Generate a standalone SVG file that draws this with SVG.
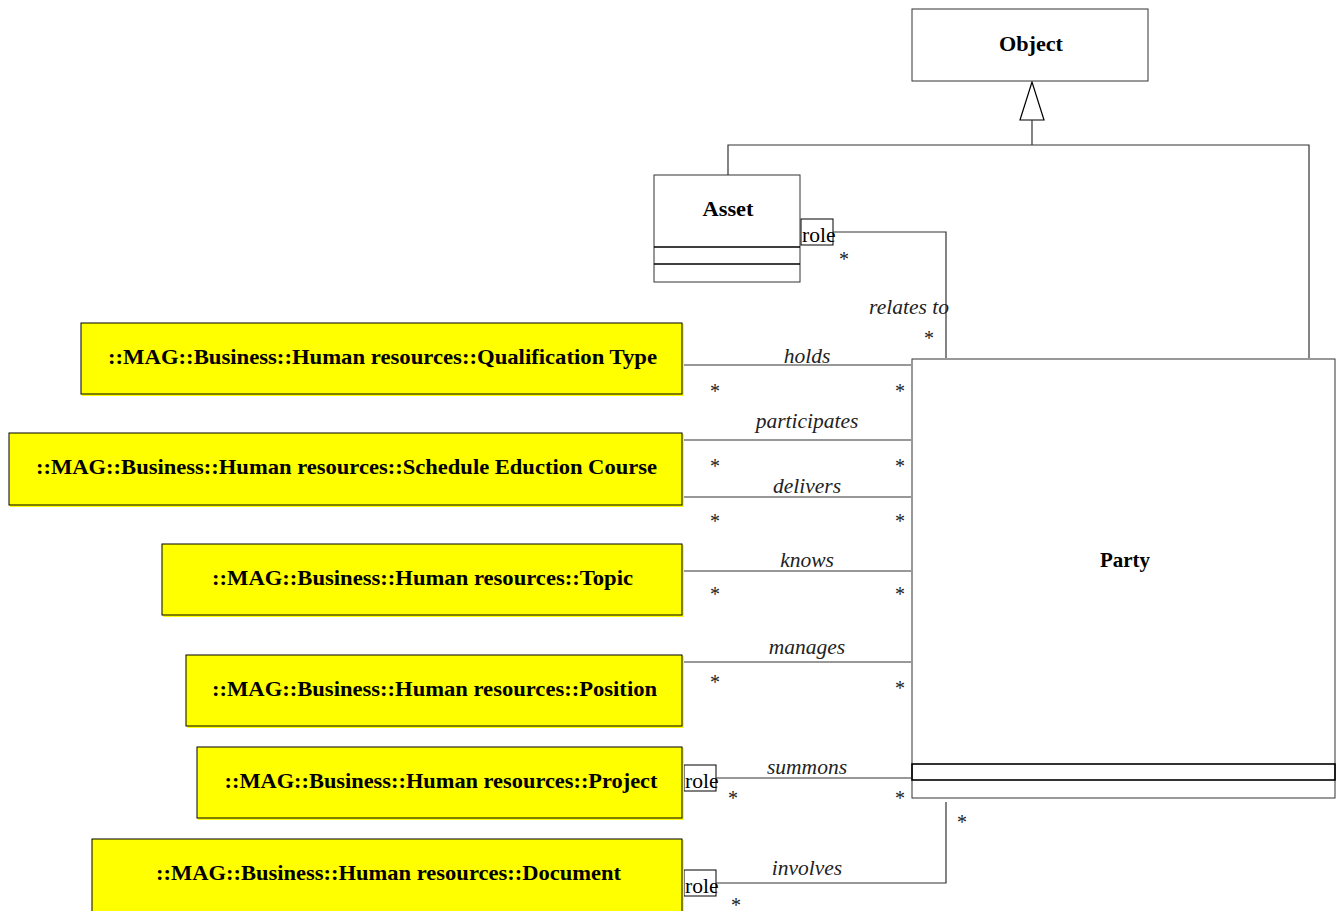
<svg xmlns="http://www.w3.org/2000/svg" width="1339" height="911" viewBox="0 0 1339 911">
  <style>
    .cls { fill: #ffffff; stroke: #333333; stroke-width: 1; }
    .ext { fill: #ffff00; stroke: #000000; stroke-width: 1; }
    .div { stroke: #000000; stroke-width: 1.6; fill: none; }
    .ln { stroke: #333333; stroke-width: 1.2; fill: none; }
    .name { font-family: "Liberation Serif", "Times New Roman", serif; font-weight: bold; font-size: 22px; text-anchor: middle; fill: #000; }
    .ext-name { font-family: "Liberation Serif", "Times New Roman", serif; font-weight: bold; font-size: 22px; text-anchor: middle; fill: #000; }
    .assoc { font-family: "Liberation Serif", "Times New Roman", serif; font-style: italic; font-size: 21.5px; text-anchor: middle; fill: #222; }
    .mult { font-family: "Liberation Serif", "Times New Roman", serif; font-size: 20px; text-anchor: middle; fill: #222; }
    .role { font-family: "Liberation Serif", "Times New Roman", serif; font-size: 21.5px; fill: #000; }
    .rolebox { fill: none; stroke: #000; stroke-width: 1; }
  </style>

  <!-- connectors -->
  <g id="connectors">
    <!-- generalization to Object -->
    <polygon points="1032,82 1020,120 1044,120" fill="#fff" stroke="#000" stroke-width="1.2"/>
    <path class="ln" d="M1032,120 V145 M728,175 V145 H1309 V358"/>

    <!-- relates to -->
    <rect class="rolebox" x="801" y="219" width="32" height="26"/>
    <text class="role" x="802" y="242">role</text>
    <path class="ln" d="M833,232 H946 V358"/>
    <text class="mult" x="844" y="266">*</text>
    <text class="assoc" x="909" y="314">relates to</text>
    <text class="mult" x="929" y="345">*</text>

    <!-- holds -->
    <path class="ln" d="M684,365 H911"/>
    <text class="assoc" x="807" y="363">holds</text>
    <text class="mult" x="715" y="398">*</text>
    <text class="mult" x="900" y="398">*</text>

    <!-- participates -->
    <path class="ln" d="M684,440 H911"/>
    <text class="assoc" x="807" y="428">participates</text>
    <text class="mult" x="715" y="473">*</text>
    <text class="mult" x="900" y="473">*</text>

    <!-- delivers -->
    <path class="ln" d="M684,497 H911"/>
    <text class="assoc" x="807" y="493">delivers</text>
    <text class="mult" x="715" y="528">*</text>
    <text class="mult" x="900" y="528">*</text>

    <!-- knows -->
    <path class="ln" d="M684,571 H911"/>
    <text class="assoc" x="807" y="567">knows</text>
    <text class="mult" x="715" y="601">*</text>
    <text class="mult" x="900" y="601">*</text>

    <!-- manages -->
    <path class="ln" d="M684,662 H911"/>
    <text class="assoc" x="807" y="654">manages</text>
    <text class="mult" x="715" y="689">*</text>
    <text class="mult" x="900" y="695">*</text>

    <!-- summons -->
    <rect class="rolebox" x="684" y="765" width="32" height="26"/>
    <text class="role" x="685" y="788">role</text>
    <path class="ln" d="M716,778 H911"/>
    <text class="assoc" x="807" y="774">summons</text>
    <text class="mult" x="733" y="805">*</text>
    <text class="mult" x="900" y="805">*</text>

    <!-- involves -->
    <rect class="rolebox" x="684" y="870" width="32" height="26"/>
    <text class="role" x="685" y="893">role</text>
    <path class="ln" d="M716,883 H946 V802"/>
    <text class="assoc" x="807" y="875">involves</text>
    <text class="mult" x="736" y="912">*</text>
    <text class="mult" x="962" y="829">*</text>
  </g>

  <!-- classes -->
  <g id="object">
    <rect class="cls" x="912" y="9" width="236" height="72"/>
    <text class="name" x="1031" y="51" textLength="64" lengthAdjust="spacingAndGlyphs">Object</text>
  </g>

  <g id="asset">
    <rect class="cls" x="654" y="175" width="146" height="107"/>
    <path class="div" d="M654,247 H800 M654,264 H800"/>
    <text class="name" x="728" y="216" textLength="51" lengthAdjust="spacingAndGlyphs">Asset</text>
  </g>

  <g id="party">
    <rect class="cls" x="912" y="359" width="423" height="439"/>
    <rect class="div" x="912" y="764" width="423" height="16"/>
    <text class="name" x="1125" y="567" textLength="50" lengthAdjust="spacingAndGlyphs">Party</text>
  </g>

  <!-- external classes -->
  <g id="qualification-type">
    <rect x="82" y="324" width="602" height="72" fill="#ffff00"/>
    <rect class="ext" x="81" y="323" width="601" height="71"/>
    <text class="ext-name" x="382.5" y="364" textLength="549" lengthAdjust="spacingAndGlyphs">::MAG::Business::Human resources::Qualification Type</text>
  </g>

  <g id="schedule-eduction-course">
    <rect x="10" y="434" width="674" height="73" fill="#ffff00"/>
    <rect class="ext" x="9" y="433" width="673" height="72"/>
    <text class="ext-name" x="346.5" y="474" textLength="621" lengthAdjust="spacingAndGlyphs">::MAG::Business::Human resources::Schedule Eduction Course</text>
  </g>

  <g id="topic">
    <rect x="163" y="545" width="521" height="72" fill="#ffff00"/>
    <rect class="ext" x="162" y="544" width="520" height="71"/>
    <text class="ext-name" x="422.5" y="585" textLength="421" lengthAdjust="spacingAndGlyphs">::MAG::Business::Human resources::Topic</text>
  </g>

  <g id="position">
    <rect x="187" y="656" width="497" height="72" fill="#ffff00"/>
    <rect class="ext" x="186" y="655" width="496" height="71"/>
    <text class="ext-name" x="434.5" y="696" textLength="445" lengthAdjust="spacingAndGlyphs">::MAG::Business::Human resources::Position</text>
  </g>

  <g id="project">
    <rect x="198" y="748" width="486" height="72" fill="#ffff00"/>
    <rect class="ext" x="197" y="747" width="485" height="71"/>
    <text class="ext-name" x="441" y="788" textLength="433" lengthAdjust="spacingAndGlyphs">::MAG::Business::Human resources::Project</text>
  </g>

  <g id="document">
    <rect x="93" y="840" width="591" height="80" fill="#ffff00"/>
    <rect class="ext" x="92" y="839" width="590" height="80"/>
    <text class="ext-name" x="388.5" y="880" textLength="465" lengthAdjust="spacingAndGlyphs">::MAG::Business::Human resources::Document</text>
  </g>
</svg>
